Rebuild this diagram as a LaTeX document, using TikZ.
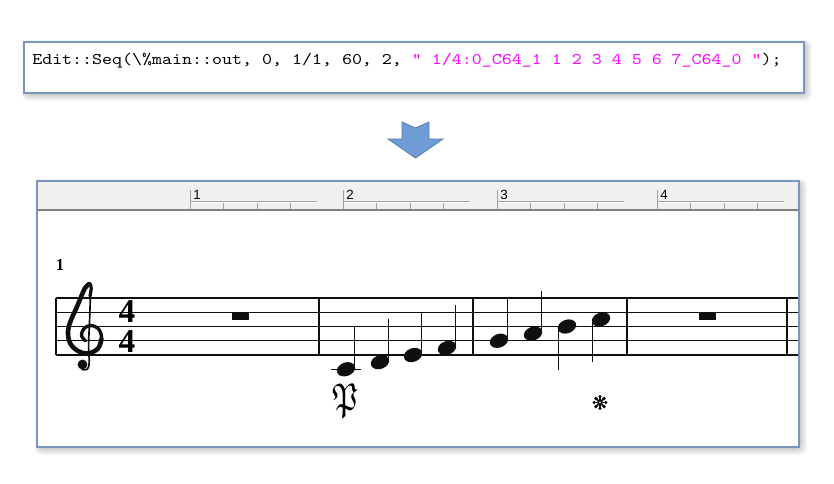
\documentclass[tikz,border=0pt]{standalone}
\usepackage{fontspec}
\usepackage{amsfonts}
\newfontfamily\codefont{lmmono10-regular.otf}[FakeStretch=1.17]
\newfontfamily\rulerfont{Liberation Sans}
\newfontfamily\scorefont{Liberation Serif}
\definecolor{boxborder}{RGB}{122,150,192}
\definecolor{codemag}{RGB}{255,0,255}
\definecolor{arrowfill}{RGB}{112,156,214}
\definecolor{arrowline}{RGB}{84,124,184}
\definecolor{rulerbg}{RGB}{240,240,240}
\definecolor{rulerline}{RGB}{160,160,160}
\definecolor{sepline}{RGB}{128,128,128}
\definecolor{ink}{RGB}{15,15,15}
\tikzset{
  panel/.style={fill=white, draw=boxborder, line width=0.8pt},
  staffline/.style={draw=ink, line width=0.85pt},
  barline/.style={draw=ink, line width=1pt},
  stem/.style={draw=ink, line width=1.05pt},
  rtick/.style={draw=rulerline, line width=0.75pt},
  rnum/.style={anchor=base west, inner sep=0pt, font=\rulerfont\fontsize{10}{12}\selectfont},
  head/.style={fill=ink},
  tsig/.style={inner sep=0pt, align=center, font=\scorefont\bfseries\fontsize{25}{21.9}\selectfont},
}
\newcommand{\shadowbox}[4]{%
  \foreach \i in {1,...,8}{%
    \fill[black, opacity=0.028, rounded corners=4pt]
      (#1-\i*0.5+2, #2-\i*0.5+2) rectangle (#3+\i, #4+\i);
  }%
}
\newcommand{\notehead}[2]{\fill[head] (#1,#2) ellipse [x radius=7.1pt, y radius=5.1pt, rotate=20];}
\begin{document}
\begin{tikzpicture}[x=0.75pt,y=-0.75pt]
\useasboundingbox (0,0) rectangle (834,483);
\fill[white] (0,0) rectangle (834,483);

% ---- code box ----
\shadowbox{24}{42}{804}{93}
\draw[panel] (24,42) rectangle (804,93);
\node[anchor=base west, inner sep=0pt, font=\codefont\fontsize{12.2}{14}\selectfont] (code) at (32,64.5)
  {Edit::Seq(\textbackslash\%main::out, 0, 1/1, 60, 2, \textcolor{codemag}{\symbol{34} 1/4:0\_C64\_1 1 2 3 4 5 6 7\_C64\_0 \symbol{34}});};

% ---- block arrow ----
\draw[fill=arrowfill, draw=arrowline, line width=0.6pt, line join=miter]
  (402,122) -- (415.5,128) -- (429,122) -- (429,139) -- (443,139) -- (415.5,158) -- (388,139) -- (402,139) -- cycle;

% ---- score window ----
\shadowbox{37}{181}{799}{447}
\draw[panel] (37,181) rectangle (799,447);
\fill[rulerbg] (37.6,181.6) rectangle (798.4,210);
\draw[sepline, line width=1.4pt] (37.6,210) -- (798.4,210);

% ruler marks
\foreach \m/\lab in {190/1, 343/2, 497/3, 657/4}{
  \draw[rtick] (\m,190) -- (\m,209);
  \draw[rtick] (\m+1,201) -- (\m+127,201);
  \draw[white, line width=0.6pt] (\m+1,202.6) -- (\m+127,202.6);
  \foreach \t in {33.5,67,100.5}{ \draw[rtick] (\m+\t,203) -- (\m+\t,208.5); }
  \node[rnum] (ruler\lab) at (\m+3,199) {\lab};
}

% measure number
\node[inner sep=0pt, font=\scorefont\bfseries\fontsize{12.5}{13}\selectfont] (mnum) at (60,265) {1};

% staff
\foreach \y in {298,312.25,326.5,340.75,355}{ \draw[staffline] (56,\y) -- (798.4,\y); }
\foreach \x in {56,319,473,627,787}{ \draw[barline] (\x,298) -- (\x,355); }

% treble clef
\draw[ink, line width=3.4pt, line cap=round, line join=round]
  plot[smooth, tension=0.6] coordinates {(89,284) (85,288) (81,297) (76,309) (71,320) (68,331) (70,343) (78,351) (88,353.5) (98,348.5) (101.5,339)};
\draw[ink, line width=2.4pt, line cap=round, line join=round]
  plot[smooth, tension=0.6] coordinates {(90,296) (91.2,288) (89.5,283.5) (85,288)};
\draw[ink, line width=2.5pt, line cap=round, line join=round]
  plot[smooth, tension=0.6] coordinates {(98,348.5) (101.5,339) (99,329.5) (91,325.5) (84,328.5) (81.5,335.5) (85.5,341)};
\draw[ink, line width=1.25pt, line cap=round]
  plot[smooth, tension=0.6] coordinates {(90.5,293) (89.6,320) (88.6,345) (89.2,362) (87.5,369) (82,369.5)};
\fill[ink] (82.5,364.5) circle [radius=3.7pt];

% time signature
\node[tsig] (timesig) at (127,326.5) {4\\4};

% whole rests
\fill[ink] (232,312.25) rectangle (249,319.5);
\fill[ink] (699,312.25) rectangle (716,319.5);

% ledger line
\draw[ink, line width=0.85pt] (331,369.25) -- (361,369.25);

% notes, stems up
\foreach \x/\y in {346/369.25, 380/362.1, 413/355, 447/347.9, 499/340.75, 533/333.6}{
  \notehead{\x}{\y}
  \draw[stem] (\x+8.3,\y-2) -- (\x+8.3,\y-42.8);
}
% notes, stems down
\foreach \x/\y in {567/326.5, 601/319.4}{
  \notehead{\x}{\y}
  \draw[stem] (\x-8.3,\y+2) -- (\x-8.3,\y+43);
}

% pedal down mark
\node[inner sep=0pt, font=\fontsize{29}{29}\selectfont] (ped) at (345.5,401)
  {\scalebox{0.8}[1]{$\mathfrak{P}$}};

% pedal up mark
\begin{scope}[shift={(600,402.5)}]
  \foreach \a in {0,45,...,315}{
    \draw[ink, line width=1.4pt] (0,0) -- (\a:4.3pt);
    \fill[ink] (\a:4.4pt) circle [radius=1.35pt];
  }
  \fill[ink] (0,0) circle [radius=1.9pt];
  \fill[white] (0,0) circle [radius=0.6pt];
\end{scope}
\end{tikzpicture}
\end{document}
